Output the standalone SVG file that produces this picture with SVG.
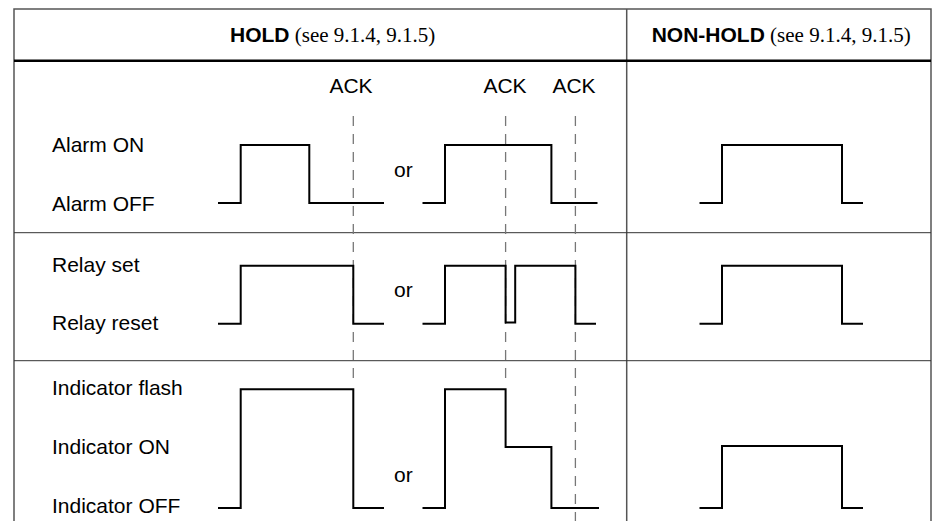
<svg xmlns="http://www.w3.org/2000/svg" width="936" height="521" viewBox="0 0 936 521">
<style>
.lbl{font-family:"Liberation Sans",Arial,Helvetica,sans-serif;font-size:21px;fill:#000}
.hb{font-family:"Liberation Sans",Arial,Helvetica,sans-serif;font-size:21px;font-weight:bold;fill:#000}
.hs{font-family:"Liberation Serif","Times New Roman",serif;font-size:21px;font-weight:normal;fill:#000}
.wave{fill:none;stroke:#000;stroke-width:2;stroke-linejoin:miter}
.grid{fill:none;stroke:#555;stroke-width:1.5}
.row{fill:none;stroke:#333;stroke-width:1}
.head{fill:none;stroke:#000;stroke-width:2.5}
.ack{fill:none;stroke:#777;stroke-width:1.3;stroke-dasharray:10 8}
</style>
<rect width="936" height="521" fill="#fff"/>
<g id="table">
<path class="grid" d="M14,521 V9 H931 V521"/>
<path class="grid" d="M626.7,9 V521"/>
<path class="head" d="M14,60.7 H931"/>
<path class="row" d="M14,232.7 H931"/>
<path class="row" d="M14,360.7 H931"/>
</g>
<g id="headers">
<text x="230" y="42" class="hb">HOLD<tspan class="hs"> (see 9.1.4, 9.1.5)</tspan></text>
<text x="651.7" y="42" class="hb">NON-HOLD<tspan class="hs"> (see 9.1.4, 9.1.5)</tspan></text>
</g>
<g id="ack-labels">
<text x="351" y="93" class="lbl" text-anchor="middle">ACK</text>
<text x="505" y="93" class="lbl" text-anchor="middle">ACK</text>
<text x="574" y="93" class="lbl" text-anchor="middle">ACK</text>
</g>
<g id="connectors">
<path class="ack" d="M353.3,116 V384"/>
<path class="ack" d="M505.6,116 V384"/>
<path class="ack" d="M575.4,116 V521"/>
</g>
<g id="labels">
<text x="52" y="152" class="lbl">Alarm ON</text>
<text x="52" y="211" class="lbl">Alarm OFF</text>
<text x="52" y="272" class="lbl">Relay set</text>
<text x="52" y="330" class="lbl">Relay reset</text>
<text x="52" y="395" class="lbl">Indicator flash</text>
<text x="52" y="454" class="lbl">Indicator ON</text>
<text x="52" y="513" class="lbl">Indicator OFF</text>
<text x="394" y="177" class="lbl">or</text>
<text x="394" y="297" class="lbl">or</text>
<text x="394" y="482" class="lbl">or</text>
</g>
<g id="alarm-waves">
<path class="wave" d="M218,203 H240.7 V145 H309.3 V203 H384"/>
<path class="wave" d="M422.5,203 H445 V145 H551.4 V203 H597.5"/>
<path class="wave" d="M699.5,203 H722 V145 H842 V203 H863"/>
</g>
<g id="relay-waves">
<path class="wave" d="M218,323.7 H240.7 V265.7 H353.3 V323.7 H384"/>
<path class="wave" d="M422.5,323.7 H445 V265.7 H505.6 V322.5 H515.2 V265.7 H575.4 V323.7 H596"/>
<path class="wave" d="M699.5,323.7 H722 V265.7 H842 V323.7 H863"/>
</g>
<g id="indicator-waves">
<path class="wave" d="M218,508 H240.7 V389.3 H353.3 V508 H384"/>
<path class="wave" d="M422.5,508 H445 V389.3 H505.6 V447 H551.4 V508 H599"/>
<path class="wave" d="M699.5,508 H722 V446 H842 V508 H863"/>
</g>
</svg>
